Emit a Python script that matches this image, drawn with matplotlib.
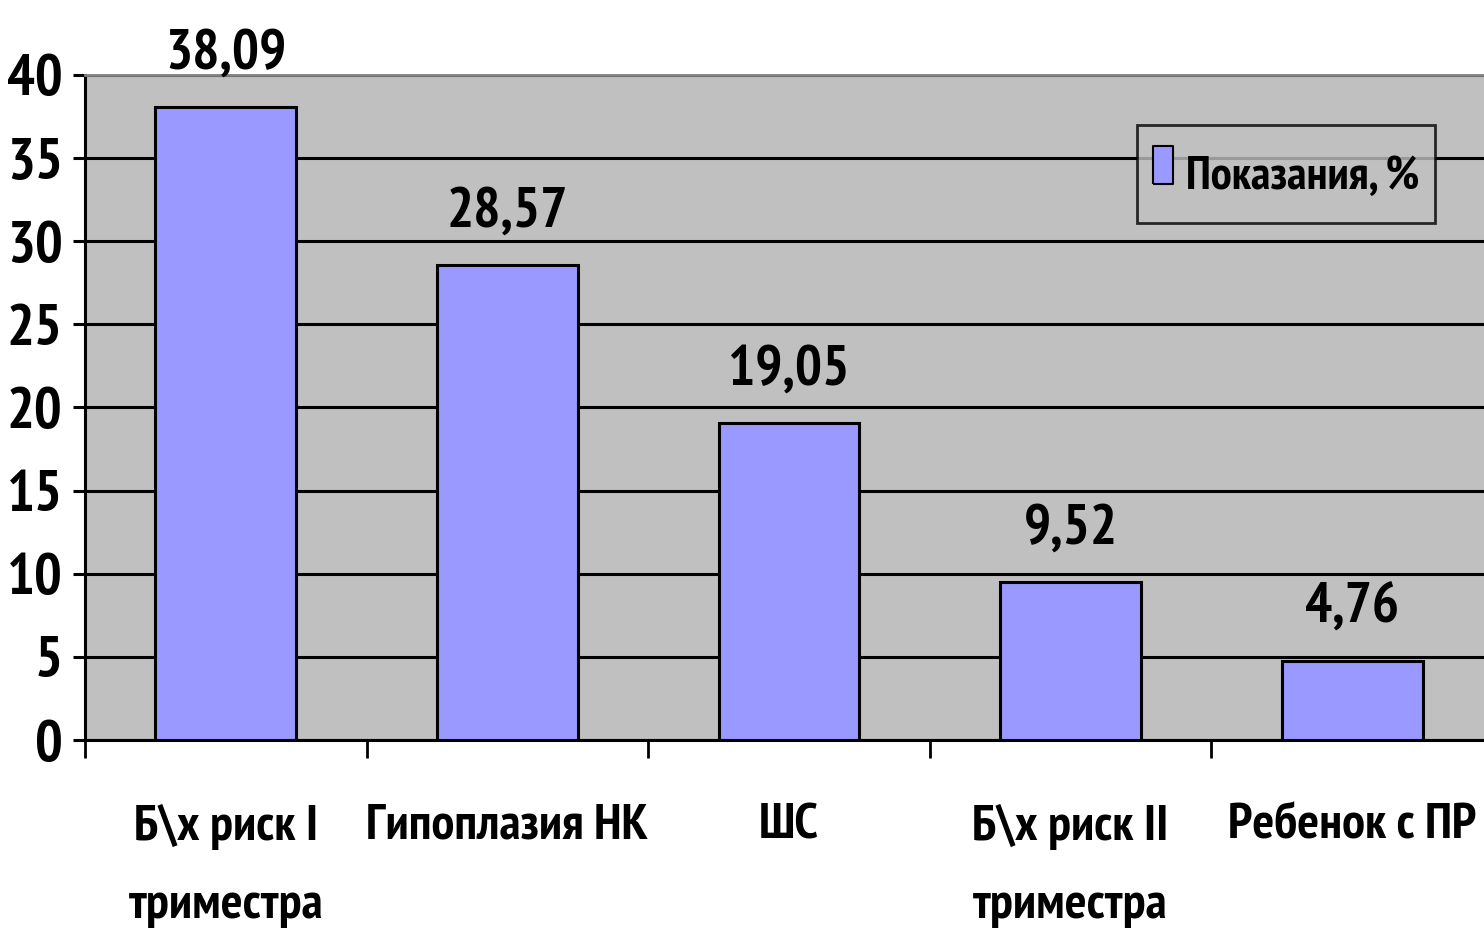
import matplotlib
matplotlib.use("Agg")
import matplotlib.pyplot as plt
from matplotlib import font_manager
from matplotlib.lines import Line2D

categories = ["Б\\х риск I\nтриместра", "Гипоплазия НК", "ШС",
              "Б\\х риск II\nтриместра", "Ребенок с ПР"]
values = [38.09, 28.57, 19.05, 9.52, 4.76]
value_labels = ["38,09", "28,57", "19,05", "9,52", "4,76"]
y_ticks = [0, 5, 10, 15, 20, 25, 30, 35, 40]
series_name = "Показания, %"

# narrow bold face, like the original Arial Narrow look
names = {f.name for f in font_manager.fontManager.ttflist}
font = "Liberation Sans"
for cand in ["PT Sans Narrow", "Roboto Condensed", "Liberation Sans"]:
    if cand in names:
        font = cand
        break
plt.rcParams["font.family"] = [font, "DejaVu Sans"]
plt.rcParams["font.weight"] = "bold"

fig = plt.figure(figsize=(14.84, 9.46), dpi=100)
ax = fig.add_axes([85 / 1484, 206 / 946, 1408 / 1484, 665 / 946])
ax.set_facecolor("#c0c0c0")

x = list(range(len(values)))
ax.bar(x, values, width=0.5, color="#9999ff", edgecolor="black",
       linewidth=2.2, zorder=3, label=series_name)

for xi, v, lab in zip(x, values, value_labels):
    ax.text(xi, v + 2.3, lab, ha="center", va="baseline", fontsize=41,
            fontweight="bold")

ax.set_xlim(-0.5, len(values) - 0.5)
ax.set_ylim(0, 40)
ax.set_yticks(y_ticks)
ax.set_yticklabels([str(t) for t in y_ticks], fontsize=42, fontweight="bold")
ax.yaxis.grid(True, color="black", linewidth=2.2, zorder=0)
ax.set_axisbelow(True)

ax.set_xticks(x)
ax.set_xticklabels(categories, fontsize=37, fontweight="bold", linespacing=1.95)
ax.set_xticks([i - 0.5 for i in range(len(values) + 1)], minor=True)
ax.tick_params(axis="x", which="major", length=0, pad=46)
ax.tick_params(axis="x", which="minor", length=13, width=2, color="black")
ax.tick_params(axis="y", length=9, width=2.2, pad=7)

ax.spines["right"].set_visible(False)
ax.spines["top"].set_color("#808080")
ax.spines["top"].set_linewidth(2)
ax.spines["left"].set_linewidth(2.2)
ax.spines["bottom"].set_linewidth(2.2)

# tall narrow rectangle as the legend key
rect = [(-0.27, -0.5), (0.27, -0.5), (0.27, 0.5), (-0.27, 0.5), (-0.27, -0.5)]
key = Line2D([], [], linestyle="none", marker=rect, markersize=27,
             markerfacecolor="#9999ff", markeredgecolor="black",
             markeredgewidth=1.5, label=series_name)
leg = ax.legend(handles=[key],
                loc="upper left", bbox_to_anchor=((1137 - 85) / 1408, (740 - 125) / 665),
                borderaxespad=0, frameon=True, fancybox=False, handlelength=0.45,
                handleheight=1.8, handletextpad=0.25, borderpad=0.33,
                prop={"weight": "bold", "size": 34})
leg.get_frame().set_facecolor("#c0c0c0")
leg.get_frame().set_edgecolor("black")
leg.get_frame().set_linewidth(2)

fig.savefig("out.png", dpi=100)
